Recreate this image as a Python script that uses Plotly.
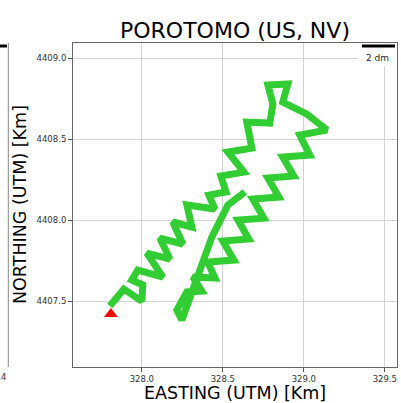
import plotly.graph_objects as go

# Survey path (UTM easting / northing, km)
easting = [327.802, 327.889, 328.000, 328.006, 327.938, 327.975, 328.130, 328.031,
           328.173, 328.111, 328.253, 328.191, 328.309, 328.278, 328.451, 328.414,
           328.519, 328.488, 328.630, 328.531, 328.679, 328.648, 328.790, 328.809,
           328.778, 328.901, 328.870, 329.019, 329.142,
           328.975, 329.037, 328.870, 328.938, 328.778, 328.846, 328.685, 328.753,
           328.593, 328.660, 328.500, 328.568, 328.407, 328.451, 328.315, 328.370,
           328.278, 328.216, 328.247, 328.432, 328.531, 328.636]
northing = [4407.469, 4407.574, 4407.500, 4407.599, 4407.630, 4407.691, 4407.648, 4407.796,
            4407.759, 4407.889, 4407.852, 4407.988, 4407.957, 4408.093, 4408.068, 4408.154,
            4408.173, 4408.272, 4408.296, 4408.420, 4408.444, 4408.605, 4408.599, 4408.716,
            4408.833, 4408.840, 4408.728, 4408.654, 4408.556,
            4408.525, 4408.401, 4408.389, 4408.272, 4408.259, 4408.142, 4408.130, 4408.012,
            4408.000, 4407.883, 4407.870, 4407.753, 4407.741, 4407.642, 4407.648, 4407.562,
            4407.556, 4407.444, 4407.383, 4407.895, 4408.093, 4408.173]
start_e = [327.809]
start_n = [4407.420]

x_ticks = [328.0, 328.5, 329.0, 329.5]
y_ticks = [4407.5, 4408.0, 4408.5, 4409.0]
x_range = [327.575, 329.575]
y_range = [4407.093, 4409.093]

W, H = 401, 403
ML, MR, MT, MB = 0, 4, 43, 36
PW = W - ML - MR
PH = H - MT - MB

def px(x):
    return (x - ML) / PW

def py(y):
    return (H - MB - y) / PH

FONT = "DejaVu Sans"

fig = go.Figure()
fig.add_trace(go.Scatter(x=easting, y=northing, mode="lines",
                         line=dict(color="rgb(50,205,50)", width=7),
                         xaxis="x", yaxis="y", hoverinfo="skip"))
fig.add_trace(go.Scatter(x=start_e, y=start_n, mode="markers",
                         marker=dict(symbol="triangle-up", color="red", size=12),
                         xaxis="x", yaxis="y", hoverinfo="skip"))

axis_common = dict(showgrid=True, gridcolor="#d3d3d3", gridwidth=1,
                   showline=True, linecolor="#666", linewidth=1, mirror=True,
                   ticks="outside", ticklen=4, tickcolor="#555",
                   tickfont=dict(family=FONT, size=8.5, color="#333"),
                   zeroline=False)

fig.update_layout(
    width=W, height=H,
    margin=dict(l=ML, r=MR, t=MT, b=MB),
    paper_bgcolor="white", plot_bgcolor="white",
    showlegend=False,
    xaxis=dict(domain=[px(73), 1], range=x_range, tickvals=x_ticks,
               ticktext=[f"{v:.1f}" for v in x_ticks], **axis_common),
    yaxis=dict(domain=[0, 1], range=y_range, tickvals=y_ticks,
               ticktext=[f"{v:.1f}" for v in y_ticks], **axis_common),
    xaxis2=dict(domain=[0, px(8)], range=[0, 1], showgrid=False, showline=True,
                linecolor="#666", mirror=True, showticklabels=False, ticks="",
                zeroline=False, anchor="y2"),
    yaxis2=dict(domain=[0, 1], range=[0, 1], showgrid=True, gridcolor="#d3d3d3",
                tickvals=[py(125), py(341)], showticklabels=False, ticks="",
                showline=True, linecolor="#666", side="right", zeroline=False,
                anchor="x2"),
    font=dict(family=FONT),
)

# scale-bar boxes and bars
fig.add_shape(type="rect", xref="paper", yref="paper",
              x0=px(358), x1=px(396.5), y0=py(66), y1=py(43.5),
              fillcolor="white", line=dict(width=0), layer="above")
fig.add_shape(type="line", xref="paper", yref="paper",
              x0=px(362), x1=px(395), y0=py(46), y1=py(46),
              line=dict(color="black", width=3), layer="above")
fig.add_shape(type="line", xref="paper", yref="paper",
              x0=px(0), x1=px(7), y0=py(46), y1=py(46),
              line=dict(color="black", width=3), layer="above")
fig.add_shape(type="line", xref="paper", yref="paper",
              x0=px(8.3), x1=px(8.3), y0=0, y1=1,
              line=dict(color="#888", width=1), layer="above")

fig.add_annotation(text="2 dm", xref="paper", yref="paper", x=px(377), y=py(58),
                   showarrow=False, font=dict(family=FONT, size=9, color="#222"),
                   xanchor="center", yanchor="middle")
fig.add_annotation(text="329.4", xref="paper", yref="paper", x=px(7.5), y=py(377),
                   showarrow=False, font=dict(family=FONT, size=8.5, color="#333"),
                   xanchor="right", yanchor="middle")

fig.add_annotation(text="POROTOMO (US, NV)", xref="paper", yref="paper",
                   x=px(235), y=py(30), showarrow=False,
                   font=dict(family=FONT, size=22, color="black"),
                   xanchor="center", yanchor="middle")
fig.add_annotation(text="EASTING (UTM) [Km]", xref="paper", yref="paper",
                   x=px(235), y=py(393), showarrow=False,
                   font=dict(family=FONT, size=17.5, color="black"),
                   xanchor="center", yanchor="middle")
fig.add_annotation(text="NORTHING (UTM) [Km]", xref="paper", yref="paper",
                   x=px(20), y=py(205), showarrow=False, textangle=-90,
                   font=dict(family=FONT, size=17.5, color="black"),
                   xanchor="center", yanchor="middle")

fig.write_html("out.html", config={"displayModeBar": False},
               post_script="document.body.style.margin='0';document.body.style.padding='0';document.body.style.overflow='hidden';")
